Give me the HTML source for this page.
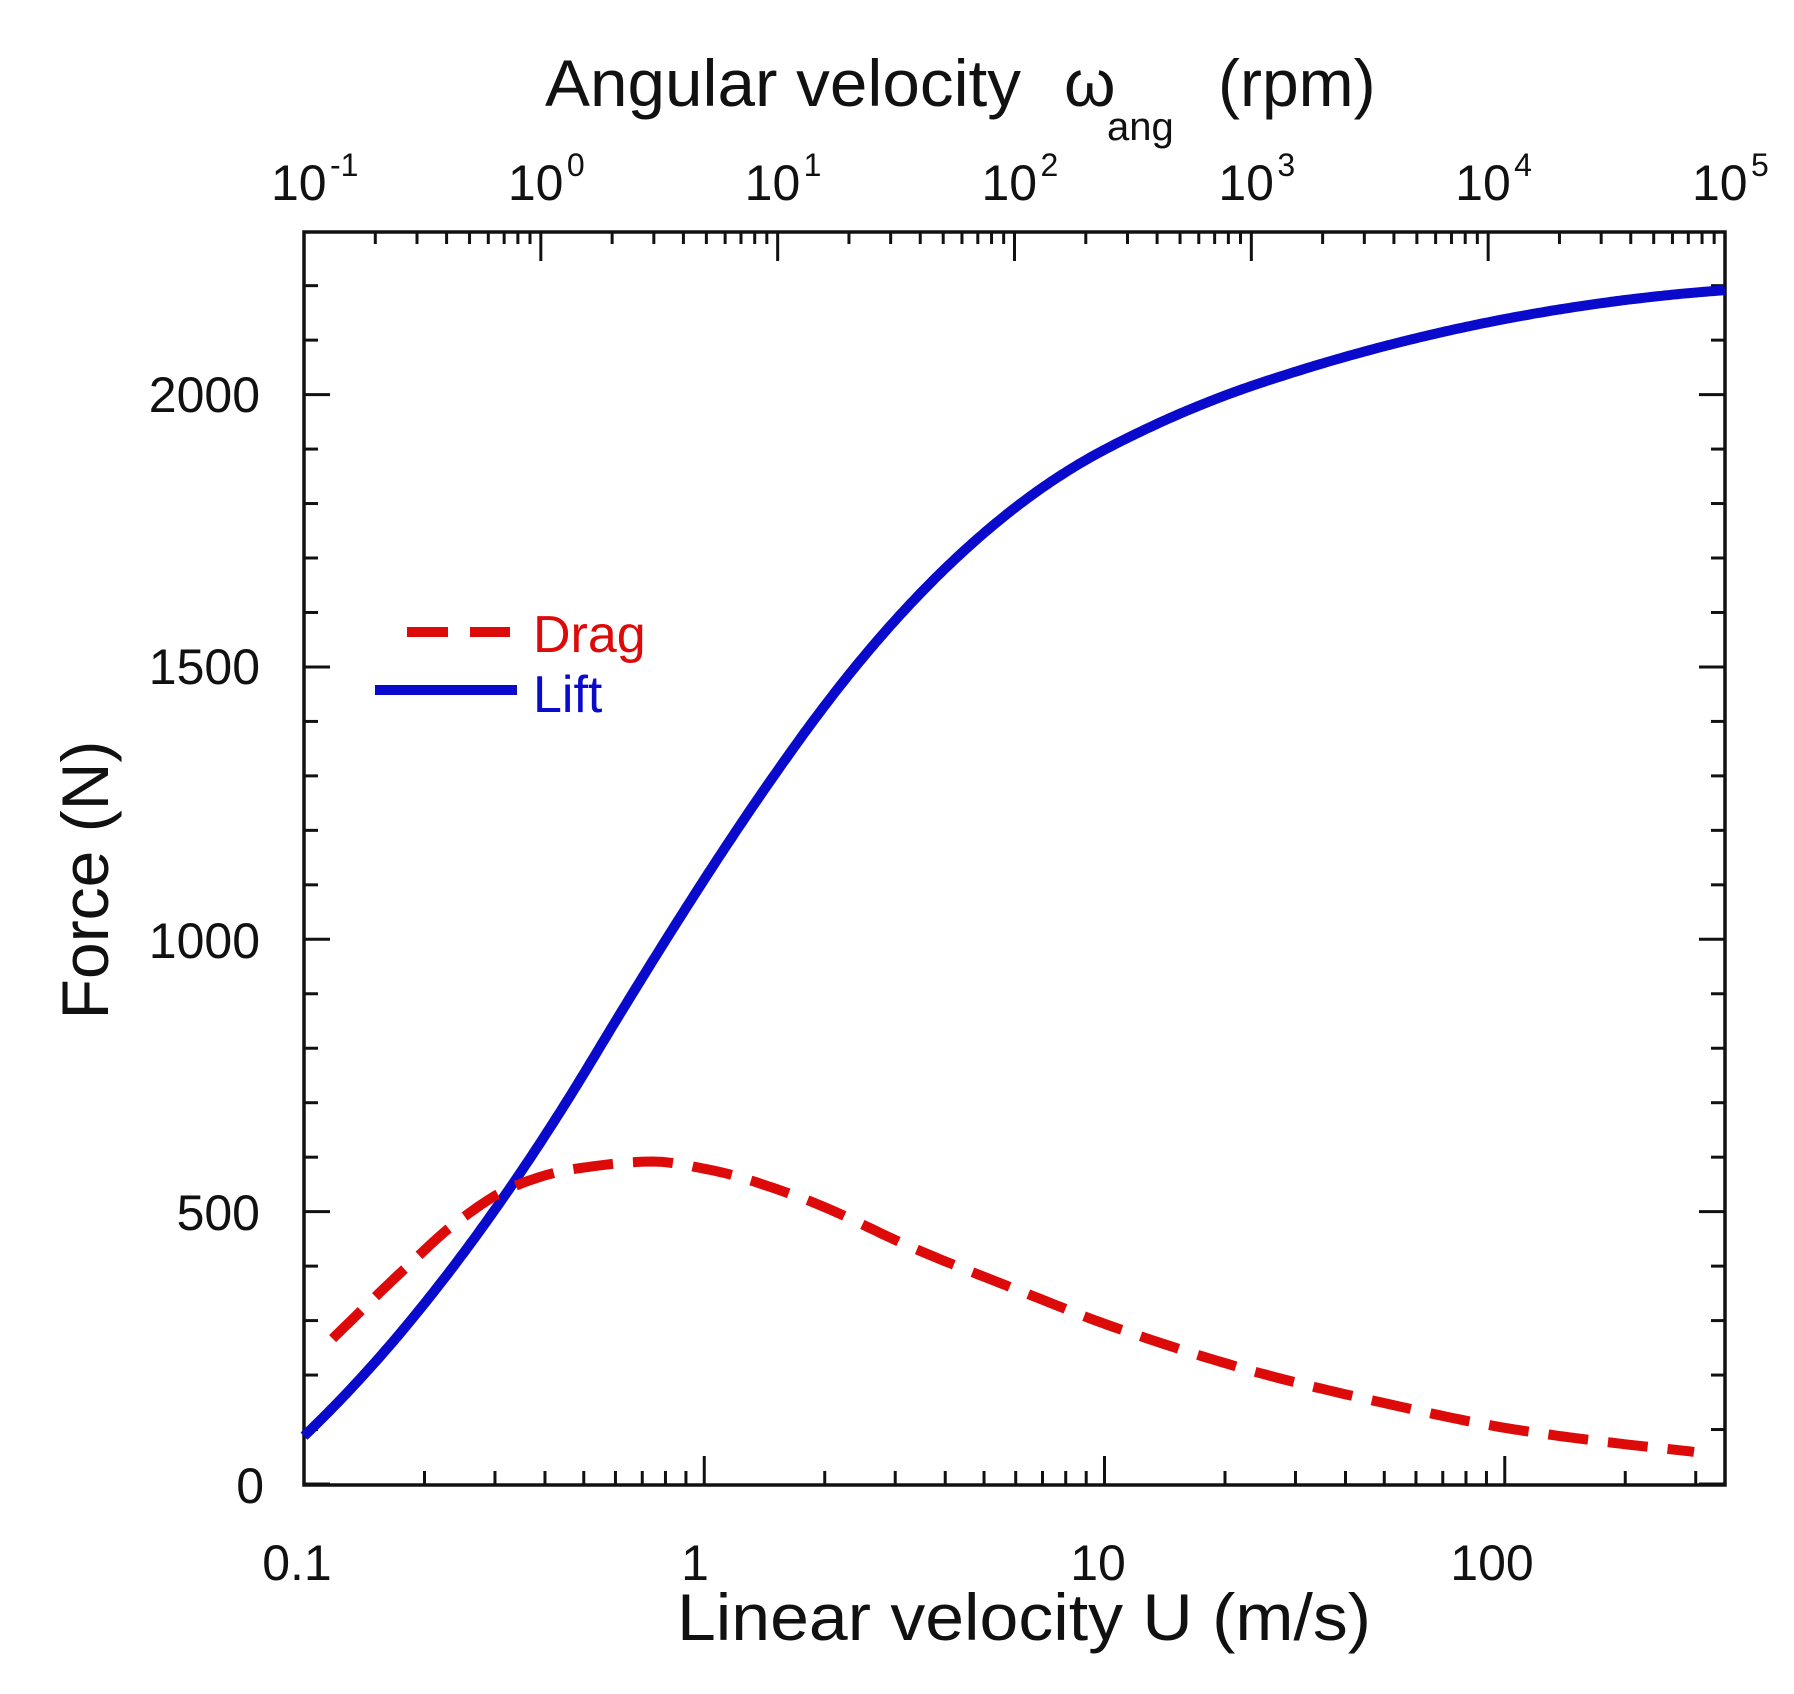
<!DOCTYPE html>
<html><head><meta charset="utf-8"><style>
html,body{margin:0;padding:0;background:#fff;}
svg{display:block;font-family:"Liberation Sans","DejaVu Sans",sans-serif;}
</style></head><body>
<svg id="s" width="1794" height="1694" viewBox="0 0 1794 1694" xmlns="http://www.w3.org/2000/svg">
<rect x="0" y="0" width="1794" height="1694" fill="#fff"/>
<g id="ticks" stroke="#111" stroke-width="3"></g>
<rect x="304" y="232" width="1421" height="1253" fill="none" stroke="#111" stroke-width="3.5"/>
<path id="lift" fill="none" stroke="#0a0acc" stroke-width="10" stroke-linecap="butt" stroke-linejoin="round"/>
<path id="drag" fill="none" stroke="#dd0a0a" stroke-width="10" stroke-dasharray="40,20" stroke-linecap="butt"/>
<line x1="407" y1="632" x2="510" y2="632" stroke="#dd0a0a" stroke-width="10" stroke-dasharray="41,22"/>
<text x="533" y="652" font-size="52" fill="#dd0a0a">Drag</text>
<line x1="375" y1="690" x2="517" y2="690" stroke="#0a0acc" stroke-width="10"/>
<text x="533" y="712" font-size="52" fill="#0a0acc">Lift</text>
<g font-size="50" fill="#111" text-anchor="end">
<text x="264" y="1503">0</text>
<text x="260" y="1230">500</text>
<text x="260" y="958">1000</text>
<text x="260" y="684">1500</text>
<text x="260" y="412">2000</text>
</g>
<g font-size="50" fill="#111" text-anchor="middle">
<text x="297" y="1580">0.1</text>
<text x="695" y="1580">1</text>
<text x="1098" y="1580">10</text>
<text x="1492" y="1580">100</text>
</g>
<g id="toplab" font-size="50" fill="#111"></g>
<text x="677" y="1640" font-size="66" fill="#111" textLength="694" lengthAdjust="spacingAndGlyphs">Linear velocity  U  (m/s)</text>
<text x="545" y="106" font-size="66" fill="#111" textLength="476" lengthAdjust="spacingAndGlyphs">Angular velocity</text>
<text x="1064" y="106" font-size="66" fill="#111">ω</text>
<text x="1107" y="140" font-size="40" fill="#111">ang</text>
<text x="1218" y="106" font-size="66" fill="#111">(rpm)</text>
<text transform="translate(108,880) rotate(-90)" font-size="66" fill="#111" text-anchor="middle">Force (N)</text>
</svg>
<script>
const NS="http://www.w3.org/2000/svg";
const L=304,R=1725,T=232,B=1485;
const g=document.getElementById('ticks');
function ln(x1,y1,x2,y2){const l=document.createElementNS(NS,'line');l.setAttribute('x1',x1);l.setAttribute('y1',y1);l.setAttribute('x2',x2);l.setAttribute('y2',y2);g.appendChild(l);}
const yN=n=>1484-0.5447*n;
for(let n=0;n<=2200;n+=100){const y=yN(n);const len=n%500==0?26:14;ln(L,y,L+len,y);ln(R,y,R-len,y);}
const dec=(R-L)/Math.log10(3550);
for(let e=-1;e<=2;e++){for(let k=1;k<=9;k++){const v=k*Math.pow(10,e);const x=L+dec*(Math.log10(v)+1);if(x>R+1)continue;ln(x,B,x,B-(k==1?29:14));}}
const td=(R-L)/6;
const tl=document.getElementById('toplab');
for(let e=-1;e<=5;e++){for(let k=1;k<=9;k++){if(e==5&&k>1)continue;const x=L+td*(Math.log10(k)+e+1);ln(x,T,x,T+(k==1?29:12));}
 const x=L+td*(e+1);
 const t=document.createElementNS(NS,'text');t.setAttribute('x',x-33);t.setAttribute('y',200);t.textContent='10';tl.appendChild(t);
 const s=document.createElementNS(NS,'text');s.setAttribute('x',x+26);s.setAttribute('y',176);s.setAttribute('font-size','32');s.textContent=String(e);tl.appendChild(s);}
const X=x=>304+1.144*(x-265);
// lift: integrate piecewise-linear slope
const sk=[[265,2.0],[520,3.5],[617,3.25],[700,2.9],[800,2.2],[965,1.1],[1100,0.7],[1315,0.4],[1507,0.15]];
function slope(x){for(let i=0;i<sk.length-1;i++){if(x<=sk[i+1][0]){const t=(x-sk[i][0])/(sk[i+1][0]-sk[i][0]);return sk[i][1]+t*(sk[i+1][1]-sk[i][1]);}}return sk[sk.length-1][1];}
let F=88,d='M'+X(265).toFixed(1)+','+yN(F).toFixed(1);
for(let x=265;x<1507;x+=1){F+=(slope(x)+slope(x+1))/2;if((x+1)%3==0||x+1==1507)d+='L'+X(x+1).toFixed(1)+','+yN(F).toFixed(1);}
document.getElementById('lift').setAttribute('d',d);
function mono(pts){
 const n=pts.length,xs=pts.map(p=>p[0]),ys=pts.map(p=>p[1]);
 const dd=[],m=[];
 for(let i=0;i<n-1;i++)dd.push((ys[i+1]-ys[i])/(xs[i+1]-xs[i]));
 m[0]=dd[0];m[n-1]=dd[n-2];
 for(let i=1;i<n-1;i++){if(dd[i-1]*dd[i]<=0)m[i]=0;else{const h0=xs[i]-xs[i-1],h1=xs[i+1]-xs[i];const w1=2*h1+h0,w2=h1+2*h0;m[i]=(w1+w2)/(w1/dd[i-1]+w2/dd[i]);}}
 let s='';
 for(let i=0;i<n-1;i++){const h=xs[i+1]-xs[i];const steps=20;for(let j=(i==0?0:1);j<=steps;j++){const t=j/steps;const h00=2*t*t*t-3*t*t+1,h10=t*t*t-2*t*t+t,h01=-2*t*t*t+3*t*t,h11=t*t*t-t*t;const x=xs[i]+t*h;const y=h00*ys[i]+h10*h*m[i]+h01*ys[i+1]+h11*h*m[i+1];
  s+=(s?'L':'M')+X(x).toFixed(1)+','+yN(y).toFixed(1);}}
 return s;}
const drag=[[290,267],[350,389],[400,483],[448,546],[500,578],[570,592],[617,578],[700,525],[800,431],[900,347],[965,294],[1100,204],[1200,153],[1315,103],[1400,78],[1480,59]];
document.getElementById('drag').setAttribute('d',mono(drag));
</script>
</body></html>
